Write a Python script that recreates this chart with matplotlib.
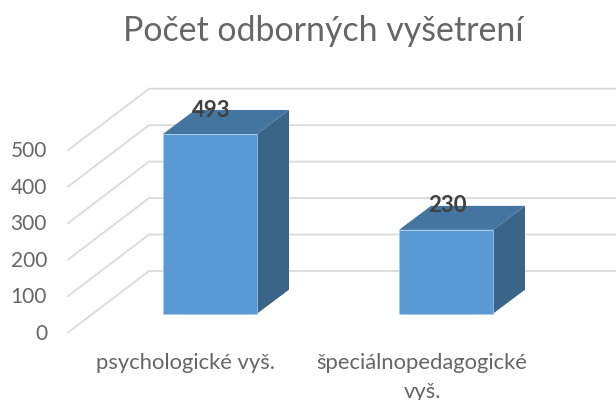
"""Počet odborných vyšetrení: 3D-look column chart drawn on a flat axes."""

import matplotlib

matplotlib.use("Agg")
import matplotlib.patches as patches
import matplotlib.pyplot as plt

TITLE = "Počet odborných vyšetrení"
CATEGORIES = ["psychologické vyš.", "špeciálnopedagogické\nvyš."]
VALUES = [493, 230]
TICKS = [0, 100, 200, 300, 400, 500]

PX_PER_UNIT = 0.3645
FLOOR_Y = 313.7  # pixel row of the front bottom edge of the bars
WALL_X = (149, 616)
WALL_OFFSET = (-81, 61.5)  # from the back wall to the front of the floor
WALL_Y = 271.0
BAR_CENTRES = [210, 446]
LABEL_CENTRES = [186, 422]
BAR_WIDTH = 94
DEPTH = (32, 24)

FRONT = "#5B9BD5"
TOP = "#4474A0"
SIDE = "#3A6488"
GRID = "#DCDCDC"
TEXT = "#666666"
LABEL = "#404040"


def _up(px: float) -> float:
    return px / PX_PER_UNIT


def main() -> None:
    plt.rcParams["font.family"] = ["Lato", "DejaVu Sans"]
    fig = plt.figure(figsize=(6.16, 4.0), dpi=100)
    ax = fig.add_axes([0, 0, 1, 1])
    ax.set_xlim(0, 616)
    ax.set_ylim(-_up(400 - FLOOR_Y), _up(FLOOR_Y))
    ax.axis("off")

    wall_base = _up(FLOOR_Y - WALL_Y)
    for tick in TICKS:
        back = wall_base + tick
        front = back - _up(WALL_OFFSET[1])
        ax.plot(
            [WALL_X[0] + WALL_OFFSET[0], WALL_X[0], WALL_X[1]],
            [front, back, back],
            color=GRID,
            lw=1.4,
            solid_joinstyle="miter",
            zorder=1,
        )
        ax.text(
            47,
            front - _up(1),
            str(tick),
            ha="right",
            va="center",
            color=TEXT,
            fontsize=15,
        )

    dx, dy = DEPTH[0], _up(DEPTH[1])
    for centre, value in zip(BAR_CENTRES, VALUES):
        left = centre - BAR_WIDTH / 2
        right = centre + BAR_WIDTH / 2
        ax.add_patch(
            patches.Polygon(
                [(right, 0), (right + dx, dy), (right + dx, value + dy), (right, value)],
                facecolor=SIDE,
                edgecolor="none",
                zorder=2,
            )
        )
        ax.add_patch(
            patches.Polygon(
                [(left, value), (right, value), (right + dx, value + dy), (left + dx, value + dy)],
                facecolor=TOP,
                edgecolor="none",
                zorder=2,
            )
        )
        ax.add_patch(
            patches.Rectangle(
                (left, 0),
                BAR_WIDTH,
                value,
                facecolor=FRONT,
                edgecolor="#A9C9E8",
                linewidth=0.5,
                zorder=3,
            )
        )
        ax.text(
            centre + 1,
            value + _up(24),
            str(value),
            ha="center",
            va="center",
            color=LABEL,
            fontsize=16,
            fontweight="bold",
            zorder=4,
        )

    for centre, name in zip(LABEL_CENTRES, CATEGORIES):
        ax.text(
            centre,
            -_up(39),
            name,
            ha="center",
            va="top",
            color=TEXT,
            fontsize=15.8,
            linespacing=1.55,
        )

    ax.text(323, _up(FLOOR_Y - 31), TITLE, ha="center", va="center", color=TEXT, fontsize=24.4)
    fig.savefig("out.png", dpi=100)
    plt.close(fig)


if __name__ == "__main__":
    main()
